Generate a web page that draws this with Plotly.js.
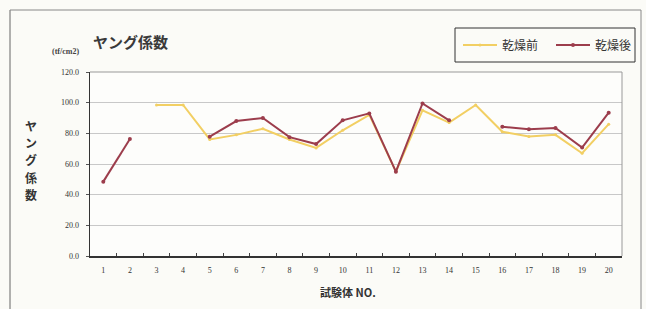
<!DOCTYPE html>
<html><head><meta charset="utf-8">
<script src="https://cdn.plot.ly/plotly-3.0.1.min.js"></script>
<style>html,body{margin:0;padding:0;background:#fbfbf7;}#c{width:646px;height:309px;}</style>
</head><body><div id="c"></div>
<script>
const specimens = ["1","2","3","4","5","6","7","8","9","10","11","12","13","14","15","16","17","18","19","20"];
const beforeDrying = [null,null,98.5,98.5,76,79,83,76,70.5,82,92,55,95,87,98.5,81,78,79,67,86];
const afterDrying = [48.5,76.3,null,null,77.8,88,90,77.5,73,88.5,93,55,99.5,88.5,null,84.3,82.6,83.5,70.7,93.5];
const yTicks = [0,20,40,60,80,100,120];
const yTickText = ["0.0","20.0","40.0","60.0","80.0","100.0","120.0"];
const seriesNames = ["乾燥前","乾燥後"];
const yTitleChars = ["ヤ","ン","グ","係","数"];

const cjk = '"Noto Sans CJK JP", "Liberation Serif", serif';
const serif = '"Liberation Serif", "DejaVu Serif", serif';

const traces = [
  {x: specimens, y: beforeDrying, name: seriesNames[0], type:'scatter', mode:'lines+markers',
   line:{color:'#f2cf63', width:2}, marker:{color:'#f2cf63', size:3}, connectgaps:false},
  {x: specimens, y: afterDrying, name: seriesNames[1], type:'scatter', mode:'lines+markers',
   line:{color:'#9c3d4c', width:2}, marker:{color:'#9c3d4c', size:4}, connectgaps:false}
];

const px2x = p => (p-90)/532;
const px2y = p => (256-p)/184;

const annotations = [
  {text:'<b>ヤング係数</b>', xref:'paper', yref:'paper', x:px2x(91), y:px2y(42), xanchor:'left', yanchor:'middle',
   showarrow:false, font:{family:cjk, size:15, color:'#3a3a3a'}},
  {text:'<b>(tf/cm2)</b>', xref:'paper', yref:'paper', x:px2x(81), y:px2y(52), xanchor:'right', yanchor:'middle',
   showarrow:false, font:{family:serif, size:8, color:'#444'}},
  {text:'<b>試験体 NO.</b>', xref:'paper', yref:'paper', x:px2x(348), y:px2y(292), xanchor:'center', yanchor:'middle',
   showarrow:false, font:{family:cjk, size:11, color:'#333'}}
];
const charY = [125,142,159,177,194];
yTitleChars.forEach((c,i)=>annotations.push({text:'<b>'+c+'</b>', xref:'paper', yref:'paper', x:px2x(31), y:px2y(charY[i]),
  xanchor:'center', yanchor:'middle', showarrow:false, font:{family:cjk, size:12, color:'#333'}}));

const layout = {
  width:646, height:309,
  margin:{l:90, r:24, t:72, b:53, autoexpand:false},
  paper_bgcolor:'#fbfbf7', plot_bgcolor:'#fdfdfb',
  showlegend:true,
  legend:{orientation:'h', x:px2x(458), y:px2y(45), xanchor:'left', yanchor:'middle',
    borderwidth:0, bgcolor:'rgba(0,0,0,0)', entrywidth:44,
    font:{family:cjk, size:12, color:'#333'}, itemwidth:34},
  xaxis:{type:'category', range:[-0.5,19.5], showgrid:false, zeroline:false,
    ticks:'inside', ticklen:3, tickson:'boundaries', tickcolor:'#444',
    showline:true, linecolor:'#333', linewidth:1.5, mirror:false,
    tickfont:{family:serif, size:8, color:'#333'}, ticklabelstandoff:6},
  yaxis:{range:[0,120], tickvals:yTicks, ticktext:yTickText, showgrid:true,
    gridcolor:'#c8c8c8', gridwidth:1, zeroline:false,
    ticks:'outside', ticklen:3, tickcolor:'#555',
    showline:true, linecolor:'#333', linewidth:1.5,
    tickfont:{family:serif, size:8, color:'#333'}, ticklabelstandoff:5},
  shapes:[
    {type:'line', xref:'paper', yref:'paper', x0:0, x1:1, y0:1, y1:1, line:{color:'#999', width:1}},
    {type:'line', xref:'paper', yref:'paper', x0:1, x1:1, y0:0, y1:1, line:{color:'#999', width:1}},
    {type:'rect', xref:'paper', yref:'paper', x0:px2x(455), x1:px2x(635), y0:px2y(62), y1:px2y(28), line:{color:'#333', width:1}},
    {type:'line', xref:'paper', yref:'paper', x0:px2x(10), x1:px2x(10), y0:-0.3, y1:px2y(10), line:{color:'#666', width:1}},
    {type:'line', xref:'paper', yref:'paper', x0:px2x(10), x1:px2x(641), y0:px2y(10), y1:px2y(10), line:{color:'#888', width:1}},
    {type:'line', xref:'paper', yref:'paper', x0:px2x(641), x1:px2x(641), y0:-0.3, y1:px2y(10), line:{color:'#888', width:1}}
  ],
  annotations: annotations
};
Plotly.newPlot('c', traces, layout, {displayModeBar:false, staticPlot:true});
</script></body></html>
